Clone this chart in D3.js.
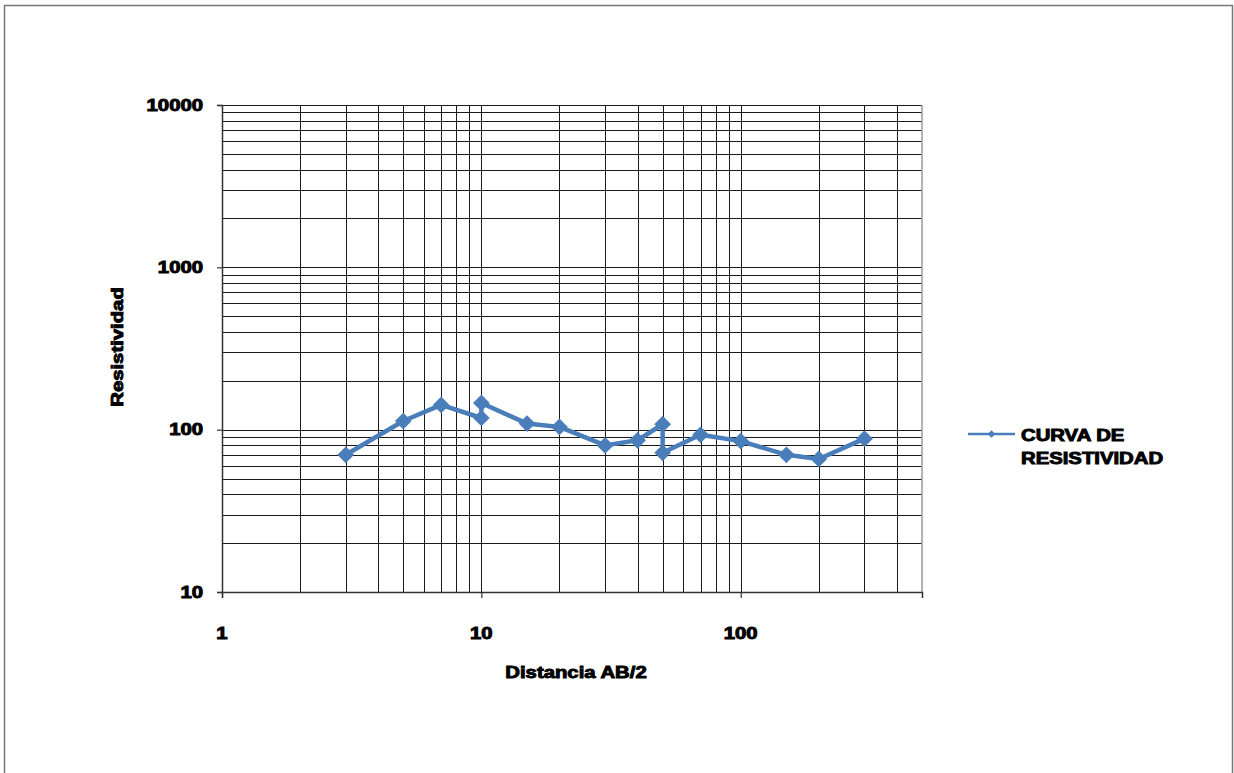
<!DOCTYPE html>
<html>
<head>
<meta charset="utf-8">
<script src="https://cdn.jsdelivr.net/npm/d3@7"></script>
<style>
  html, body { margin: 0; padding: 0; background: #fff; }
  svg { display: block; }
  text { font-family: "Liberation Sans", Arial, sans-serif; font-weight: bold; fill: #000; stroke: #000; stroke-width: 0.9; }
</style>
</head>
<body>
<svg id="chart" width="1234" height="773"></svg>
<script>
// Sondeo eléctrico vertical: resistividad aparente vs. AB/2
const distancias = [3, 5, 7, 10, 10, 15, 20, 30, 40, 50, 50, 70, 100, 150, 200, 300];
const resistividad = [70, 113, 142, 118, 146, 109, 104, 80, 86, 108, 72, 93, 85, 70, 66, 88];
const xTickLabels = [1, 10, 100];
const yTickLabels = [10, 100, 1000, 10000];
const serieNombre = ["CURVA DE", "RESISTIVIDAD"];

const svg = d3.select("#chart");
const plot = { left: 222, right: 922, top: 105, bottom: 592 };
const stretch = 1.27;
const blue = "#4a7ebb";

const x = d3.scaleLog().domain([1, 500]).range([plot.left, plot.right]);
const y = d3.scaleLog().domain([10, 10000]).range([plot.bottom, plot.top]);

// outer frame
svg.append("rect")
  .attr("x", 4.5).attr("y", 5.5).attr("width", 1228).attr("height", 800)
  .attr("fill", "none").attr("stroke", "#777").attr("stroke-width", 1.5);

function label(g, tx, ty, str, anchor, rotate) {
  return g.append("text")
    .attr("transform", `translate(${tx},${ty})${rotate ? " rotate(" + rotate + ")" : ""} scale(${stretch},1)`)
    .attr("text-anchor", anchor)
    .attr("dominant-baseline", "central")
    .attr("font-size", 16)
    .text(str);
}

// grid lines
const xGrid = x.ticks().filter(v => v > 1 && v < 500);
const yGrid = y.ticks().filter(v => v > 10);
const grid = svg.append("g").attr("shape-rendering", "crispEdges");
grid.selectAll("line.gx").data(xGrid).join("line")
  .attr("x1", d => Math.round(x(d)) + 0.5).attr("x2", d => Math.round(x(d)) + 0.5)
  .attr("y1", plot.top).attr("y2", plot.bottom)
  .attr("stroke", "#1a1a1a").attr("stroke-width", 1);
grid.selectAll("line.gy").data(yGrid).join("line")
  .attr("y1", d => Math.round(y(d)) + 0.5).attr("y2", d => Math.round(y(d)) + 0.5)
  .attr("x1", plot.left).attr("x2", plot.right)
  .attr("stroke", "#1a1a1a").attr("stroke-width", 1);

// right edge of plot area
svg.append("line")
  .attr("x1", plot.right).attr("x2", plot.right)
  .attr("y1", plot.top).attr("y2", plot.bottom)
  .attr("stroke", "#9a9a9a").attr("stroke-width", 1.5);

// axes
const xAxis = d3.axisBottom(x).tickValues(xTickLabels).tickSize(6).tickFormat("");
const yAxis = d3.axisLeft(y).tickValues(yTickLabels).tickSize(5).tickFormat("");
const gx = svg.append("g").attr("transform", `translate(0,${plot.bottom})`).call(xAxis);
const gy = svg.append("g").attr("transform", `translate(${plot.left},0)`).call(yAxis);
[gx, gy].forEach(g => {
  g.select(".domain").attr("stroke", "#333").attr("stroke-width", 1.5);
  g.selectAll(".tick line").attr("stroke", "#333").attr("stroke-width", 1.2);
});

// tick labels
const labels = svg.append("g");
xTickLabels.forEach(v => label(labels, x(v), 633, d3.format("d")(v), "middle"));
yTickLabels.forEach(v => label(labels, 203, y(v), d3.format("d")(v), "end"));

// axis titles
label(labels, 576, 672, "Distancia AB/2", "middle");
label(labels, 117, 347, "Resistividad", "middle", -90);

// series
const pts = distancias.map((d, i) => [d, resistividad[i]]);
const line = d3.line().x(d => x(d[0])).y(d => y(d[1]));
svg.append("path")
  .attr("d", line(pts))
  .attr("fill", "none").attr("stroke", blue)
  .attr("stroke-width", 4.5).attr("stroke-linejoin", "round");

const diamond = d3.symbol().type(d3.symbolSquare).size(140);
svg.selectAll("path.pt").data(pts).join("path")
  .attr("class", "pt")
  .attr("transform", d => `translate(${x(d[0])},${y(d[1])}) rotate(45)`)
  .attr("d", diamond)
  .attr("fill", blue);

// legend
const lg = svg.append("g");
lg.append("line").attr("x1", 968).attr("x2", 1015).attr("y1", 434).attr("y2", 434)
  .attr("stroke", blue).attr("stroke-width", 2.5);
lg.append("path").attr("transform", "translate(991.5,434) rotate(45)")
  .attr("d", d3.symbol().type(d3.symbolSquare).size(30)).attr("fill", blue);
serieNombre.forEach((s, i) => label(lg, 1021, 435 + i * 23.5, s, "start"));
</script>
</body>
</html>
